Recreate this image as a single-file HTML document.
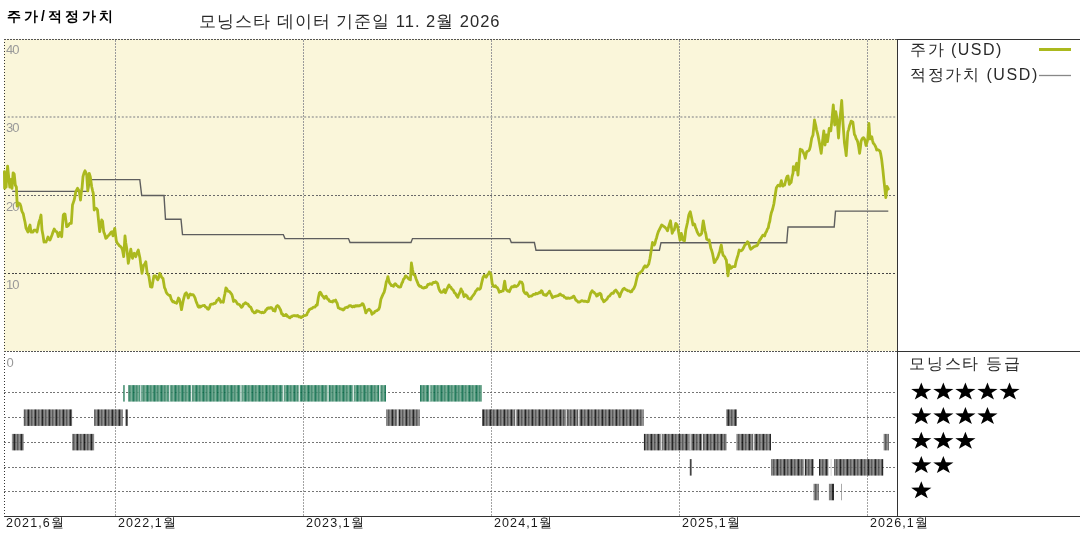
<!DOCTYPE html>
<html><head><meta charset="utf-8">
<style>
html,body{margin:0;padding:0;background:#fff;}
body{width:1080px;height:540px;overflow:hidden;position:relative;font-family:"Liberation Sans",sans-serif;}
.t{position:absolute;white-space:nowrap;color:#000;line-height:1;will-change:transform;}
.ax{top:517px;font-size:12.5px;letter-spacing:1.1px;color:#1a1a1a;}
</style></head><body>
<svg width="1080" height="540" viewBox="0 0 1080 540" style="position:absolute;left:0;top:0;will-change:transform">
<defs>
<pattern id="pk" patternUnits="userSpaceOnUse" width="7" height="20">
<rect x="0" width="1" height="20" fill="#0a0a0a"/>
<rect x="1" width="1" height="20" fill="#5a5a5a"/>
<rect x="2" width="1" height="20" fill="#7a7a7a"/>
<rect x="3" width="1" height="20" fill="#444444"/>
<rect x="4" width="1" height="20" fill="#666666"/>
<rect x="5" width="1" height="20" fill="#858585"/>
<rect x="6" width="1" height="20" fill="#4a4a4a"/>
</pattern>
<pattern id="pg" patternUnits="userSpaceOnUse" width="7" height="20">
<rect x="0" width="1" height="20" fill="#0a6a48"/>
<rect x="1" width="1" height="20" fill="#3a876c"/>
<rect x="2" width="1" height="20" fill="#5a9a80"/>
<rect x="3" width="1" height="20" fill="#2f7f60"/>
<rect x="4" width="1" height="20" fill="#4a9073"/>
<rect x="5" width="1" height="20" fill="#6aa58b"/>
<rect x="6" width="1" height="20" fill="#358868"/>
</pattern>
</defs>
<rect x="4" y="39" width="893" height="312" fill="#faf6da"/>
<g fill="#999" style="font-family:'Liberation Sans',sans-serif;font-size:13px;letter-spacing:-0.9px">
<text x="6" y="54.3">40</text>
<text x="6" y="132.3">30</text>
<text x="6" y="210.6">20</text>
<text x="6" y="288.9">10</text>
<text x="6.5" y="367.2">0</text>
</g>
<g stroke="#9a9a9a" stroke-width="1" stroke-dasharray="1.5,1.5" shape-rendering="crispEdges">
<line x1="115.5" y1="40" x2="115.5" y2="351"/>
<line x1="303.5" y1="40" x2="303.5" y2="351"/>
<line x1="491.5" y1="40" x2="491.5" y2="351"/>
<line x1="679.5" y1="40" x2="679.5" y2="351"/>
<line x1="867.5" y1="40" x2="867.5" y2="351"/>
</g>
<line x1="4" y1="117" x2="897" y2="117" stroke="#a5a5a0" stroke-width="1.6" stroke-dasharray="2,1.8"/>
<line x1="4" y1="195.5" x2="897" y2="195.5" stroke="#6a6a6a" stroke-width="1" stroke-dasharray="2,1.8" shape-rendering="crispEdges"/>
<line x1="4" y1="273.5" x2="897" y2="273.5" stroke="#444" stroke-width="1" stroke-dasharray="2,1.8" shape-rendering="crispEdges"/>
<g stroke="#333" stroke-width="1" stroke-dasharray="1,2" shape-rendering="crispEdges">
<line x1="4.5" y1="39" x2="4.5" y2="516"/>
</g>
<g stroke="#555" stroke-width="1" stroke-dasharray="2,1" shape-rendering="crispEdges">
<line x1="4" y1="39.5" x2="897" y2="39.5"/>
<line x1="4" y1="351.5" x2="897" y2="351.5"/>
</g>
<path d="M12.2,191.4 L88.0,191.4 L90.0,179.6 L139.8,179.6 L141.7,195.5 L164.0,195.5 L165.5,219.2 L181.0,219.2 L182.5,234.6 L283.3,234.6 L285.0,238.6 L348.5,238.6 L350.0,242.5 L411.0,242.5 L412.5,238.6 L509.8,238.6 L511.3,242.5 L534.4,242.5 L536.0,250.3 L659.4,250.3 L661.0,242.7 L786.7,242.7 L788.0,227.0 L834.2,227.0 L835.5,211.1 L888.3,211.1" fill="none" stroke="#5e5e5e" stroke-width="1.4"/>
<path d="M4.4,171.7 L4.6,188.3 L5.3,187.4 L6.1,187.2 L6.8,176.0 L7.6,166.1 L8.7,177.2 L9.8,187.2 L11.1,179.4 L12.0,188.3 L13.1,172.8 L14.2,173.9 L15.3,185.0 L16.4,187.2 L17.2,206.1 L18.3,202.8 L19.1,203.6 L20.0,203.9 L20.9,206.5 L21.7,210.6 L22.5,212.3 L23.3,213.9 L24.2,218.4 L25.1,222.5 L26.0,228.0 L27.0,230.0 L28.0,232.0 L29.0,227.7 L30.0,225.0 L31.0,232.0 L32.0,231.9 L33.0,232.0 L34.0,230.2 L35.0,230.0 L36.0,230.3 L37.0,232.0 L38.0,226.9 L39.0,222.0 L40.0,219.1 L41.0,215.0 L42.0,230.0 L43.0,235.3 L44.0,242.0 L45.0,241.5 L46.0,242.0 L47.0,239.7 L48.0,237.0 L49.0,239.3 L50.0,240.0 L51.0,237.6 L52.0,235.0 L53.1,231.8 L54.2,229.0 L55.5,231.2 L56.7,231.7 L57.5,233.4 L58.3,236.7 L59.1,235.2 L60.0,232.5 L60.9,234.2 L61.7,236.7 L62.5,225.2 L63.3,215.0 L64.2,213.8 L65.0,214.0 L65.8,220.0 L66.7,226.7 L68.0,225.9 L69.2,224.0 L70.2,223.1 L71.3,223.3 L72.5,205.0 L73.3,202.6 L74.2,200.0 L75.0,196.1 L75.8,191.7 L76.7,189.8 L77.5,188.3 L78.3,189.6 L79.2,190.8 L80.5,200.0 L81.2,193.4 L82.0,188.3 L83.0,176.7 L84.0,173.0 L85.0,170.8 L85.8,172.4 L86.7,175.0 L87.8,190.8 L89.2,173.3 L90.3,176.7 L91.7,186.7 L92.5,190.3 L93.3,193.3 L94.2,210.0 L95.0,209.0 L95.8,208.3 L96.7,208.8 L97.5,210.0 L98.6,221.0 L99.7,231.7 L100.7,225.8 L101.7,220.0 L102.5,221.0 L103.7,231.7 L104.8,234.6 L105.8,238.3 L106.9,237.6 L108.0,235.8 L109.2,234.9 L110.3,233.3 L111.2,232.0 L112.0,231.7 L113.0,235.8 L113.8,232.2 L114.7,228.3 L115.5,234.6 L116.3,240.8 L117.3,243.2 L118.3,244.2 L119.5,245.9 L120.8,246.7 L121.7,248.0 L122.5,250.0 L123.7,256.7 L125.0,235.8 L125.8,242.9 L126.7,248.3 L127.5,255.1 L128.3,263.3 L129.6,256.1 L130.8,249.2 L131.7,254.2 L132.5,258.3 L133.3,255.2 L134.2,253.3 L135.0,255.0 L135.8,256.7 L137.1,252.5 L138.3,250.0 L139.2,254.5 L140.0,258.3 L141.0,266.3 L142.0,273.3 L142.8,269.3 L143.7,265.0 L144.8,264.0 L145.8,261.7 L147.2,273.3 L148.0,274.2 L148.8,275.8 L149.7,281.6 L150.5,286.7 L151.2,287.0 L152.0,287.0 L152.9,281.6 L153.9,276.0 L154.9,275.9 L155.8,276.0 L156.8,278.5 L157.8,279.8 L158.8,277.4 L159.7,273.3 L160.7,275.2 L161.7,277.2 L163.0,278.5 L163.8,283.3 L164.5,287.6 L165.3,289.1 L166.2,292.2 L167.2,293.8 L168.2,294.7 L169.1,295.3 L170.1,295.4 L171.1,298.9 L172.0,300.6 L172.9,301.8 L173.7,301.5 L174.6,302.5 L175.6,302.6 L176.6,303.2 L177.6,300.9 L178.5,298.0 L179.3,299.1 L180.1,301.9 L181.5,309.7 L182.3,305.4 L183.1,301.2 L184.1,297.1 L185.0,294.1 L186.3,292.8 L187.3,294.7 L188.3,298.0 L189.2,295.3 L190.2,294.1 L191.2,294.9 L192.2,294.7 L193.1,294.7 L194.1,296.0 L195.1,298.1 L196.0,301.2 L197.0,303.6 L198.0,306.4 L198.9,307.3 L199.7,306.0 L200.6,307.0 L201.9,306.0 L202.8,305.7 L203.6,305.7 L204.5,305.4 L205.5,307.0 L206.5,307.3 L207.4,308.9 L208.4,309.3 L209.4,307.7 L210.4,304.7 L211.3,304.1 L212.1,304.1 L213.0,304.1 L213.9,303.5 L214.9,303.4 L215.9,302.5 L216.9,300.2 L217.9,300.1 L218.8,298.3 L219.8,299.6 L220.8,302.2 L222.1,301.6 L223.3,302.2 L224.1,297.5 L224.9,293.7 L225.9,287.9 L226.9,289.0 L227.9,291.1 L228.9,291.4 L229.8,291.8 L230.8,293.3 L231.8,294.4 L232.7,297.5 L233.5,301.5 L234.6,300.3 L235.7,300.9 L236.6,302.4 L237.6,304.1 L238.6,304.2 L239.6,304.7 L240.6,306.1 L241.5,307.3 L242.5,306.5 L243.5,304.1 L244.4,303.8 L245.4,302.8 L246.3,303.3 L247.1,303.9 L248.0,304.1 L248.9,305.7 L249.9,306.7 L250.8,307.2 L251.7,309.4 L252.5,311.3 L253.3,311.7 L254.2,312.8 L255.0,312.8 L255.8,312.4 L256.7,310.6 L257.5,311.4 L258.3,311.1 L259.1,311.5 L260.0,312.2 L260.9,312.3 L261.7,312.8 L262.5,312.1 L263.3,312.8 L264.1,312.5 L265.0,311.7 L265.9,309.8 L266.7,309.4 L267.5,308.1 L268.3,308.3 L269.1,307.8 L270.0,308.3 L270.9,307.4 L271.7,307.8 L272.5,308.9 L273.3,310.6 L274.1,310.0 L275.0,311.1 L275.9,307.7 L276.7,306.1 L277.5,305.5 L278.3,306.1 L279.4,307.8 L280.6,310.0 L281.7,313.9 L282.5,314.0 L283.3,315.6 L284.1,315.4 L285.0,315.6 L285.9,314.4 L286.7,315.0 L287.5,316.5 L288.3,316.7 L289.1,317.5 L290.0,317.8 L290.9,316.6 L291.7,316.7 L292.5,315.8 L293.3,315.8 L294.1,315.5 L295.0,315.8 L295.9,315.7 L296.7,316.1 L297.5,315.4 L298.3,316.1 L299.1,317.0 L300.0,316.7 L301.1,317.6 L302.2,316.7 L303.3,316.1 L304.4,315.6 L305.5,315.3 L306.7,315.0 L307.5,312.6 L308.3,311.7 L309.1,309.8 L310.0,309.4 L311.1,308.6 L312.2,308.3 L313.0,307.3 L313.9,307.2 L314.8,307.2 L315.6,306.1 L316.4,304.9 L317.2,305.0 L318.3,297.8 L319.4,292.8 L320.2,292.2 L321.1,293.3 L322.0,295.5 L322.8,296.1 L323.6,297.3 L324.4,298.3 L325.2,296.6 L326.1,296.1 L327.0,297.8 L327.8,299.4 L328.6,299.4 L329.4,301.1 L330.5,301.5 L331.7,301.7 L332.5,302.0 L333.3,300.6 L334.5,301.0 L335.6,300.0 L336.4,302.0 L337.2,303.3 L338.3,307.8 L339.1,307.9 L340.0,308.9 L340.9,308.9 L341.7,309.4 L342.5,309.1 L343.3,310.0 L344.1,309.4 L345.0,307.8 L345.9,307.6 L346.7,307.2 L347.5,307.5 L348.3,306.7 L349.1,305.8 L350.0,305.6 L350.9,305.7 L351.7,306.7 L352.5,307.0 L353.3,306.1 L354.5,306.7 L355.6,305.6 L356.7,306.2 L357.8,305.6 L358.7,306.0 L359.5,305.8 L360.4,305.1 L361.3,305.1 L362.1,303.7 L363.0,303.8 L364.3,307.1 L365.1,310.0 L365.8,312.9 L367.0,311.0 L368.2,309.7 L369.1,309.2 L370.1,310.3 L371.1,311.4 L372.0,314.2 L373.0,313.2 L374.0,312.9 L374.9,311.5 L375.9,311.0 L376.9,310.7 L377.9,309.7 L378.8,309.2 L379.6,307.1 L380.9,299.3 L382.0,296.6 L383.1,294.1 L384.1,292.3 L385.0,288.9 L386.3,281.8 L387.1,280.1 L387.9,276.6 L388.8,280.7 L389.6,283.1 L390.6,284.2 L391.5,285.7 L392.5,285.5 L393.5,286.3 L394.3,284.5 L395.1,283.7 L395.9,284.2 L396.7,285.7 L397.6,285.8 L398.6,287.0 L399.6,287.2 L400.6,287.0 L401.9,283.1 L402.7,281.9 L403.5,279.2 L404.5,278.2 L405.5,275.9 L406.4,276.5 L407.3,277.2 L408.2,278.5 L409.1,279.2 L410.4,279.8 L411.4,263.0 L412.5,269.5 L413.6,274.6 L414.9,275.3 L416.2,279.2 L417.5,282.4 L418.5,284.9 L419.5,286.3 L420.8,286.2 L422.0,287.6 L422.9,287.8 L423.7,288.2 L424.6,287.4 L425.6,287.7 L426.6,287.0 L427.9,284.4 L428.9,284.5 L429.8,283.7 L430.8,284.0 L431.8,284.4 L432.8,282.8 L433.7,282.4 L434.7,282.6 L435.7,281.8 L436.6,282.4 L437.6,283.7 L438.9,288.9 L440.2,291.5 L441.2,292.4 L442.2,292.2 L443.1,291.7 L444.1,289.6 L445.4,292.8 L446.2,290.7 L447.0,288.9 L448.0,286.8 L449.0,285.0 L449.9,286.8 L450.8,287.0 L451.6,288.7 L452.5,289.6 L453.5,290.6 L454.5,292.8 L455.4,293.4 L456.4,295.4 L457.8,297.3 L458.6,294.8 L459.3,293.5 L460.1,291.9 L461.0,288.9 L461.8,290.8 L462.6,291.5 L464.0,296.7 L464.8,295.1 L465.6,294.7 L466.4,295.9 L467.1,296.0 L468.0,298.2 L468.8,298.6 L469.8,299.1 L470.8,299.0 L471.8,297.2 L472.7,296.0 L473.6,294.8 L474.6,293.5 L475.6,291.2 L476.6,290.2 L477.6,288.7 L478.5,288.9 L479.5,289.4 L480.5,288.3 L481.8,282.4 L483.1,277.2 L484.4,275.3 L485.2,276.5 L486.1,277.2 L486.9,275.9 L487.6,274.6 L488.5,274.1 L489.3,272.0 L490.1,272.9 L490.9,274.0 L492.2,283.7 L493.4,286.3 L494.4,286.7 L495.4,285.7 L496.4,287.2 L497.3,287.6 L498.3,289.4 L499.3,292.2 L500.2,291.4 L501.2,291.5 L502.2,290.8 L503.2,290.9 L503.9,285.5 L504.7,281.1 L505.8,288.9 L506.8,290.2 L507.8,291.1 L508.6,291.0 L509.4,291.7 L510.2,289.6 L511.1,287.8 L511.9,286.6 L512.8,286.7 L513.6,286.9 L514.4,285.6 L515.2,285.9 L516.1,286.7 L517.0,286.1 L517.8,285.6 L518.9,283.9 L520.0,281.7 L520.9,282.1 L521.7,282.2 L522.8,284.4 L523.6,291.1 L525.0,293.3 L525.9,293.8 L526.7,292.8 L527.5,294.1 L528.3,295.6 L529.1,296.6 L530.0,296.1 L530.9,296.1 L531.7,296.1 L532.5,295.3 L533.3,294.4 L534.1,294.4 L535.0,294.4 L535.9,293.3 L536.7,293.9 L537.5,293.5 L538.3,293.3 L539.1,292.5 L540.0,292.8 L541.3,290.6 L542.0,291.1 L542.8,293.3 L543.6,294.7 L544.4,295.0 L545.2,294.7 L546.1,295.6 L547.0,294.4 L547.8,293.3 L548.6,292.6 L549.4,291.1 L550.2,292.9 L551.1,294.4 L552.5,297.8 L553.5,296.9 L554.4,296.7 L555.2,296.4 L556.1,296.1 L557.0,295.9 L557.8,295.6 L558.6,295.5 L559.4,294.4 L560.2,294.0 L561.1,295.0 L562.0,295.4 L562.8,295.6 L563.6,295.9 L564.4,297.2 L565.2,297.3 L566.1,298.3 L567.0,298.5 L567.8,297.8 L568.6,298.1 L569.4,298.3 L570.2,298.2 L571.1,297.8 L572.0,297.7 L572.8,296.7 L573.9,296.1 L575.0,298.3 L575.9,300.2 L576.7,300.6 L577.5,301.3 L578.3,302.2 L579.1,302.2 L580.0,301.7 L580.9,301.2 L581.7,300.6 L582.5,300.9 L583.3,301.1 L584.1,301.4 L585.0,301.1 L585.9,301.3 L586.7,301.7 L587.5,301.8 L588.3,301.7 L589.4,297.8 L590.6,293.3 L591.4,291.9 L592.2,290.6 L593.0,292.2 L593.9,292.2 L594.8,293.4 L595.6,293.9 L596.7,296.1 L597.5,295.7 L598.3,293.9 L599.1,294.4 L600.0,293.3 L601.1,294.5 L601.7,298.3 L602.7,299.6 L603.7,301.7 L604.8,301.0 L605.8,300.0 L607.0,299.1 L608.3,296.7 L609.5,296.1 L610.8,294.2 L612.0,293.1 L613.3,293.3 L614.5,291.0 L615.8,290.0 L616.6,291.1 L617.5,292.5 L618.6,293.8 L619.7,296.7 L620.7,293.7 L621.7,291.7 L623.0,289.2 L624.2,288.3 L625.5,289.5 L626.7,290.0 L628.0,290.9 L629.2,290.8 L630.5,292.0 L631.7,291.7 L632.5,289.8 L633.3,289.2 L634.3,287.5 L635.3,285.0 L636.1,281.5 L637.0,277.5 L637.9,274.8 L638.7,273.3 L639.8,273.2 L640.8,271.7 L641.9,271.3 L643.0,269.2 L644.0,267.0 L645.0,265.8 L646.0,267.1 L647.0,266.7 L647.9,265.3 L648.7,264.2 L650.0,258.3 L651.3,250.0 L652.5,242.5 L653.4,243.7 L654.2,245.0 L655.0,243.4 L655.8,240.0 L656.6,237.7 L657.5,234.2 L658.4,231.5 L659.2,230.0 L660.5,227.4 L661.7,225.0 L663.0,225.9 L664.2,226.7 L665.0,227.2 L665.8,228.3 L666.6,229.0 L667.5,230.8 L668.4,227.6 L669.2,225.0 L670.5,220.8 L671.4,227.4 L672.2,233.3 L673.2,230.8 L674.2,230.0 L675.0,226.7 L675.8,223.3 L677.2,225.0 L678.0,228.6 L678.7,232.5 L680.0,240.0 L681.3,233.3 L682.0,235.8 L682.8,240.0 L683.6,240.1 L684.5,240.8 L685.8,230.0 L686.6,226.5 L687.5,222.5 L688.8,215.0 L689.5,213.4 L690.3,211.7 L691.7,218.3 L693.0,225.0 L693.9,223.8 L694.7,224.2 L695.5,227.6 L696.3,229.2 L697.3,232.2 L698.3,234.2 L699.3,235.4 L700.3,235.0 L701.7,233.3 L702.5,226.3 L703.3,220.8 L704.1,225.4 L705.0,230.8 L705.9,234.2 L706.7,239.2 L708.0,240.1 L709.2,240.0 L710.0,243.7 L710.8,248.3 L711.6,250.1 L712.5,253.3 L713.4,257.8 L714.2,262.5 L715.0,262.0 L715.8,260.0 L716.9,258.9 L718.0,256.7 L718.9,253.8 L719.7,251.7 L720.5,247.7 L721.3,245.0 L722.1,250.8 L723.0,255.0 L723.9,256.0 L724.7,256.7 L725.5,258.7 L726.3,260.0 L727.1,267.2 L728.0,275.8 L729.2,265.0 L730.0,265.9 L730.8,268.3 L731.6,267.8 L732.5,266.7 L733.8,266.6 L735.0,266.7 L736.0,261.7 L737.0,258.3 L738.1,254.9 L739.2,250.0 L740.2,250.6 L741.3,250.8 L742.5,249.7 L743.7,247.5 L744.8,245.1 L745.8,244.2 L746.6,243.6 L747.5,241.7 L748.4,242.6 L749.2,245.0 L750.0,247.8 L750.8,249.2 L751.9,248.3 L753.0,247.5 L754.0,246.6 L755.0,246.3 L755.9,245.8 L756.9,245.8 L757.8,244.4 L758.7,242.1 L759.7,240.1 L760.6,238.9 L761.7,237.1 L762.8,235.2 L763.7,235.2 L764.6,236.1 L765.5,233.1 L766.5,231.5 L767.4,229.0 L768.3,227.8 L769.0,223.7 L769.8,221.3 L770.5,216.6 L771.3,213.0 L772.6,209.3 L773.9,203.7 L775.0,196.3 L776.3,188.0 L777.2,186.3 L778.1,185.2 L779.0,185.3 L780.0,186.1 L781.3,180.6 L782.0,183.8 L782.8,186.1 L783.7,185.3 L784.6,185.2 L785.5,181.5 L786.5,177.8 L787.2,176.3 L788.0,175.9 L789.3,184.3 L790.2,183.1 L791.1,182.4 L792.0,176.9 L793.0,173.1 L793.3,166.7 L794.1,167.9 L795.0,170.0 L795.9,165.8 L796.7,163.3 L798.0,175.0 L799.2,160.0 L800.3,149.2 L801.1,150.0 L802.0,150.0 L802.9,151.7 L803.7,153.3 L804.5,155.2 L805.3,158.3 L806.7,151.7 L807.7,151.2 L808.7,150.8 L809.5,149.5 L810.3,146.7 L811.7,138.3 L813.0,135.0 L813.8,126.8 L814.5,120.0 L815.8,125.8 L816.6,130.1 L817.5,133.3 L818.4,137.4 L819.2,141.7 L820.2,147.5 L821.2,153.3 L822.5,141.7 L823.8,130.8 L825.0,145.0 L826.3,135.0 L827.5,141.7 L828.4,135.6 L829.2,128.3 L830.0,129.4 L830.8,130.8 L832.0,119.2 L833.3,105.0 L834.7,125.0 L835.8,111.7 L837.2,120.0 L838.5,138.0 L839.2,128.0 L840.0,118.0 L840.9,109.6 L841.7,100.5 L843.0,123.3 L843.8,134.2 L844.5,143.3 L845.4,149.2 L846.2,155.7 L847.0,144.5 L847.8,132.2 L848.7,129.3 L849.6,125.6 L850.4,123.6 L851.1,121.1 L852.0,121.5 L852.9,122.2 L853.6,128.0 L854.4,134.4 L855.3,135.8 L856.2,138.9 L857.0,139.9 L857.8,142.2 L858.7,147.0 L859.6,153.3 L860.4,147.6 L861.1,141.1 L862.0,139.0 L862.9,137.8 L863.6,137.7 L864.4,138.9 L865.2,141.5 L866.0,145.6 L866.9,142.9 L867.8,138.9 L868.9,123.3 L870.0,138.9 L870.9,138.5 L871.8,136.7 L872.5,140.3 L873.3,143.3 L874.2,144.1 L875.1,145.6 L875.9,147.3 L876.7,150.0 L877.5,149.6 L878.4,150.0 L879.2,150.5 L880.0,151.1 L880.8,154.4 L881.6,158.9 L882.9,170.0 L884.0,181.1 L884.9,189.2 L885.8,197.5 L887.0,186.5 L888.3,189.0" fill="none" stroke="#abb91e" stroke-width="2.8" stroke-linejoin="round" stroke-linecap="round"/>
<g stroke="#9a9a9a" stroke-width="1" stroke-dasharray="1.5,1.5" shape-rendering="crispEdges" opacity="0.9">
<line x1="115.5" y1="352" x2="115.5" y2="516"/>
<line x1="303.5" y1="352" x2="303.5" y2="516"/>
<line x1="491.5" y1="352" x2="491.5" y2="516"/>
<line x1="679.5" y1="352" x2="679.5" y2="516"/>
<line x1="867.5" y1="352" x2="867.5" y2="516"/>
</g>
<g stroke="#666" stroke-width="1" stroke-dasharray="2,1.8" shape-rendering="crispEdges" opacity="0.9">
<line x1="4" y1="392.5" x2="897" y2="392.5"/>
<line x1="4" y1="417.5" x2="897" y2="417.5"/>
<line x1="4" y1="442.5" x2="897" y2="442.5"/>
<line x1="4" y1="467.5" x2="897" y2="467.5"/>
<line x1="4" y1="491.5" x2="897" y2="491.5"/>
</g>
<g opacity="0.88">
<rect x="123.1" y="385.1" width="1.7" height="16.5" fill="#3d8a6b"/>
<rect x="128" y="385.1" width="258.0" height="16.5" fill="url(#pg)"/>
<rect x="420" y="385.1" width="62.0" height="16.5" fill="url(#pg)"/>
<rect x="140.1" y="385.1" width="1.2" height="16.5" fill="#fff" opacity="0.8"/>
<rect x="168.7" y="385.1" width="1.2" height="16.5" fill="#fff" opacity="0.8"/>
<rect x="190.9" y="385.1" width="1.2" height="16.5" fill="#fff" opacity="0.8"/>
<rect x="240.4" y="385.1" width="1.2" height="16.5" fill="#fff" opacity="0.8"/>
<rect x="282.8" y="385.1" width="1.2" height="16.5" fill="#fff" opacity="0.8"/>
<rect x="298.7" y="385.1" width="1.2" height="16.5" fill="#fff" opacity="0.8"/>
<rect x="327.5" y="385.1" width="1.2" height="16.5" fill="#fff" opacity="0.8"/>
<rect x="352.8" y="385.1" width="1.2" height="16.5" fill="#fff" opacity="0.8"/>
<rect x="379.1" y="385.1" width="1.2" height="16.5" fill="#fff" opacity="0.8"/>
<rect x="429.2" y="385.1" width="1.2" height="16.5" fill="#fff" opacity="0.8"/>
<rect x="23.7" y="409.4" width="48.4" height="16.5" fill="url(#pk)"/>
<rect x="94.1" y="409.4" width="28.6" height="16.5" fill="url(#pk)"/>
<rect x="125.6" y="409.4" width="2.1" height="16.5" fill="#1a1a1a"/>
<rect x="386.2" y="409.4" width="33.5" height="16.5" fill="url(#pk)"/>
<rect x="482" y="409.4" width="161.7" height="16.5" fill="url(#pk)"/>
<rect x="726.1" y="409.4" width="10.8" height="16.5" fill="url(#pk)"/>
<rect x="397.3" y="409.4" width="1.2" height="16.5" fill="#fff" opacity="0.8"/>
<rect x="514.9" y="409.4" width="1.2" height="16.5" fill="#fff" opacity="0.8"/>
<rect x="566.1" y="409.4" width="1.2" height="16.5" fill="#fff" opacity="0.8"/>
<rect x="578.1" y="409.4" width="1.2" height="16.5" fill="#fff" opacity="0.8"/>
<rect x="11.9" y="433.9" width="11.8" height="16.5" fill="url(#pk)"/>
<rect x="72.1" y="433.9" width="22.0" height="16.5" fill="url(#pk)"/>
<rect x="643.9" y="433.9" width="82.7" height="16.5" fill="url(#pk)"/>
<rect x="736.5" y="433.9" width="34.5" height="16.5" fill="url(#pk)"/>
<rect x="883.7" y="433.9" width="5.2" height="16.5" fill="url(#pk)"/>
<rect x="660.8" y="433.9" width="1.2" height="16.5" fill="#fff" opacity="0.8"/>
<rect x="689.5" y="433.9" width="1.2" height="16.5" fill="#fff" opacity="0.8"/>
<rect x="701.8" y="433.9" width="1.2" height="16.5" fill="#fff" opacity="0.8"/>
<rect x="752.9" y="433.9" width="1.2" height="16.5" fill="#fff" opacity="0.8"/>
<rect x="689.8" y="459.1" width="1.8" height="16.5" fill="#2a2a2a"/>
<rect x="771.1" y="459.1" width="42.5" height="16.5" fill="url(#pk)"/>
<rect x="819" y="459.1" width="9.4" height="16.5" fill="url(#pk)"/>
<rect x="830.4" y="459.1" width="1.5" height="16.5" fill="#bbb"/>
<rect x="834" y="459.1" width="49.3" height="16.5" fill="url(#pk)"/>
<rect x="803.8" y="459.1" width="1.2" height="16.5" fill="#fff" opacity="0.8"/>
<rect x="830.4" y="459.1" width="1.2" height="16.5" fill="#fff" opacity="0.8"/>
<rect x="813.6" y="483.8" width="5.2" height="16.5" fill="url(#pk)"/>
<rect x="828.9" y="483.8" width="2.7" height="16.5" fill="#707070"/>
<rect x="831.6" y="483.8" width="2.4" height="16.5" fill="#111"/>
<rect x="841" y="483.8" width="0.8" height="16.5" fill="#888"/>
</g>
<g stroke="#333" stroke-width="1.2" shape-rendering="crispEdges">
<line x1="897" y1="39.5" x2="1080" y2="39.5"/>
<line x1="897" y1="351.5" x2="1080" y2="351.5"/>
<line x1="897.5" y1="39" x2="897.5" y2="516"/>
<line x1="3.5" y1="516.5" x2="1080" y2="516.5"/>
</g>
<line x1="1039" y1="49.5" x2="1071" y2="49.5" stroke="#abb91e" stroke-width="3"/>
<line x1="1039" y1="75.5" x2="1071" y2="75.5" stroke="#888" stroke-width="1.3"/>
<g fill="#000">
<polygon points="921.30,382.40 923.79,388.68 931.40,388.90 925.33,392.99 927.80,399.40 921.30,395.65 914.80,399.40 917.27,392.99 911.20,388.90 918.81,388.68"/>
<polygon points="943.35,382.40 945.84,388.68 953.45,388.90 947.38,392.99 949.85,399.40 943.35,395.65 936.85,399.40 939.32,392.99 933.25,388.90 940.86,388.68"/>
<polygon points="965.40,382.40 967.89,388.68 975.50,388.90 969.43,392.99 971.90,399.40 965.40,395.65 958.90,399.40 961.37,392.99 955.30,388.90 962.91,388.68"/>
<polygon points="987.45,382.40 989.94,388.68 997.55,388.90 991.48,392.99 993.95,399.40 987.45,395.65 980.95,399.40 983.42,392.99 977.35,388.90 984.96,388.68"/>
<polygon points="1009.50,382.40 1011.99,388.68 1019.60,388.90 1013.53,392.99 1016.00,399.40 1009.50,395.65 1003.00,399.40 1005.47,392.99 999.40,388.90 1007.01,388.68"/>
<polygon points="921.30,407.00 923.79,413.28 931.40,413.50 925.33,417.59 927.80,424.00 921.30,420.25 914.80,424.00 917.27,417.59 911.20,413.50 918.81,413.28"/>
<polygon points="943.35,407.00 945.84,413.28 953.45,413.50 947.38,417.59 949.85,424.00 943.35,420.25 936.85,424.00 939.32,417.59 933.25,413.50 940.86,413.28"/>
<polygon points="965.40,407.00 967.89,413.28 975.50,413.50 969.43,417.59 971.90,424.00 965.40,420.25 958.90,424.00 961.37,417.59 955.30,413.50 962.91,413.28"/>
<polygon points="987.45,407.00 989.94,413.28 997.55,413.50 991.48,417.59 993.95,424.00 987.45,420.25 980.95,424.00 983.42,417.59 977.35,413.50 984.96,413.28"/>
<polygon points="921.30,431.70 923.79,437.98 931.40,438.20 925.33,442.29 927.80,448.70 921.30,444.95 914.80,448.70 917.27,442.29 911.20,438.20 918.81,437.98"/>
<polygon points="943.35,431.70 945.84,437.98 953.45,438.20 947.38,442.29 949.85,448.70 943.35,444.95 936.85,448.70 939.32,442.29 933.25,438.20 940.86,437.98"/>
<polygon points="965.40,431.70 967.89,437.98 975.50,438.20 969.43,442.29 971.90,448.70 965.40,444.95 958.90,448.70 961.37,442.29 955.30,438.20 962.91,437.98"/>
<polygon points="921.30,456.00 923.79,462.28 931.40,462.50 925.33,466.59 927.80,473.00 921.30,469.25 914.80,473.00 917.27,466.59 911.20,462.50 918.81,462.28"/>
<polygon points="943.35,456.00 945.84,462.28 953.45,462.50 947.38,466.59 949.85,473.00 943.35,469.25 936.85,473.00 939.32,466.59 933.25,462.50 940.86,462.28"/>
<polygon points="921.30,481.30 923.79,487.58 931.40,487.80 925.33,491.89 927.80,498.30 921.30,494.55 914.80,498.30 917.27,491.89 911.20,487.80 918.81,487.58"/>
</g>
</svg>
<div class="t" style="left:7px;top:9px;font-size:14px;font-weight:bold;letter-spacing:3px;">주가/적정가치</div>
<div class="t" style="left:198.5px;top:13px;font-size:16.5px;letter-spacing:1px;color:#2a2a2a;">모닝스타 데이터 기준일 11. 2월 2026</div>
<div class="t" style="left:910px;top:42px;font-size:16px;letter-spacing:1.5px;color:#2a2a2a;">주가 (USD)</div>
<div class="t" style="left:910px;top:67px;font-size:16px;letter-spacing:1.6px;color:#2a2a2a;">적정가치 (USD)</div>
<div class="t" style="left:909px;top:356px;font-size:16px;letter-spacing:1.8px;color:#2a2a2a;">모닝스타 등급</div>
<div class="t ax" style="left:6px;">2021,6월</div>
<div class="t ax" style="left:118px;">2022,1월</div>
<div class="t ax" style="left:306px;">2023,1월</div>
<div class="t ax" style="left:494px;">2024,1월</div>
<div class="t ax" style="left:682px;">2025,1월</div>
<div class="t ax" style="left:870px;">2026,1월</div>
</body></html>
